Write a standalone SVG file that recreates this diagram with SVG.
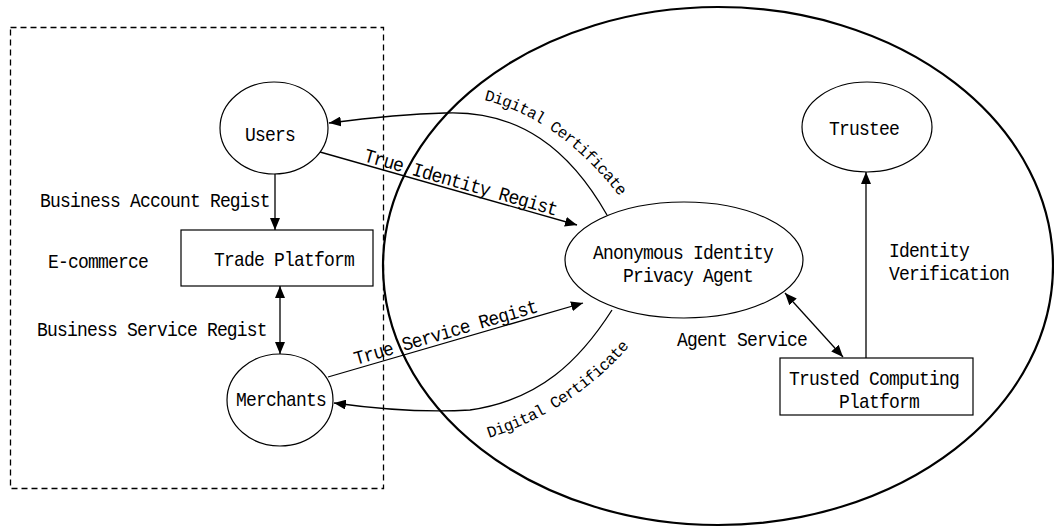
<svg xmlns="http://www.w3.org/2000/svg" width="1054" height="527" viewBox="0 0 1054 527">
  <style>
    .node { fill: #fff; stroke: #000; stroke-width: 1.2; }
    .edge { fill: none; stroke: #000; stroke-width: 1.3; }
    .lbl { font-family: "Liberation Mono", "DejaVu Sans Mono", monospace; font-size: 18px; letter-spacing: -0.8px; fill: #000; }
    .sm { font-size: 16px; letter-spacing: -0.7px; }
    .mid { text-anchor: middle; }
  </style>
  <defs>
    <marker id="arrow" viewBox="0 0 12 10" refX="12" refY="5" markerWidth="12" markerHeight="10" markerUnits="userSpaceOnUse" orient="auto-start-reverse">
      <path d="M0,0 L12,5 L0,10 z" fill="#000"/>
    </marker>
    <path id="certTop" d="M 484 100 Q 560 118 624 202"/>
    <path id="certBottom" d="M 489 438 Q 575 410 632 343"/>
  </defs>

  <rect width="1054" height="527" fill="#fff"/>

  <!-- e-commerce boundary -->
  <g id="ecommerce-boundary">
    <rect x="10.5" y="27.5" width="373" height="461" fill="none" stroke="#000" stroke-width="1.3" stroke-dasharray="6,4"/>
    <text class="lbl" transform="translate(48,268) scale(1,1.08)">E-commerce</text>
  </g>

  <!-- agent domain -->
  <g id="agent-domain">
    <ellipse cx="718" cy="266" rx="335" ry="259" fill="none" stroke="#000" stroke-width="2.2"/>
  </g>

  <!-- connectors -->
  <g id="connectors">
    <line class="edge" x1="275" y1="174" x2="275" y2="230" marker-end="url(#arrow)"/>
    <line class="edge" x1="280" y1="286" x2="280" y2="354" marker-start="url(#arrow)" marker-end="url(#arrow)"/>
    <line class="edge" x1="320" y1="152" x2="577" y2="225" marker-end="url(#arrow)"/>
    <line class="edge" x1="328" y1="377" x2="583" y2="303" marker-end="url(#arrow)"/>
    <path class="edge" d="M 607 215 C 570 150, 520 110, 445 113 C 400 114, 360 119, 329 123" marker-end="url(#arrow)"/>
    <path class="edge" d="M 612 310 C 580 360, 540 400, 470 410 C 420 413, 370 408, 334 403" marker-end="url(#arrow)"/>
    <line class="edge" x1="785" y1="293" x2="843" y2="357" marker-start="url(#arrow)" marker-end="url(#arrow)"/>
    <line class="edge" x1="866" y1="358" x2="866" y2="172" marker-end="url(#arrow)"/>

    <text class="lbl" transform="translate(40,207) scale(1,1.08)">Business Account Regist</text>
    <text class="lbl" transform="translate(37,336) scale(1,1.08)">Business Service Regist</text>
    <text class="lbl" transform="translate(363,161) rotate(15.9) scale(1,1.08)">True Identity Regist</text>
    <text class="lbl" transform="translate(356,365) rotate(-16.2) scale(1,1.08)">True Service Regist</text>
    <text class="lbl sm"><textPath href="#certTop">Digital Certificate</textPath></text>
    <text class="lbl sm"><textPath href="#certBottom">Digital Certificate</textPath></text>
    <text class="lbl" transform="translate(677,346) scale(1,1.08)">Agent Service</text>
    <text class="lbl" transform="translate(889,257) scale(1,1.08)">Identity</text>
    <text class="lbl" transform="translate(889,280) scale(1,1.08)">Verification</text>
  </g>

  <g id="users">
    <ellipse class="node" cx="274" cy="128" rx="54" ry="46"/>
    <text class="lbl mid" transform="translate(270,141) scale(1,1.08)">Users</text>
  </g>

  <g id="trade-platform">
    <rect class="node" x="181" y="230" width="192" height="56"/>
    <text class="lbl" transform="translate(214,266) scale(1,1.08)">Trade Platform</text>
  </g>

  <g id="merchants">
    <ellipse class="node" cx="280" cy="400" rx="53" ry="46"/>
    <text class="lbl mid" transform="translate(281,406) scale(1,1.08)">Merchants</text>
  </g>

  <g id="privacy-agent">
    <ellipse class="node" cx="684" cy="260" rx="119" ry="58"/>
    <text class="lbl mid" transform="translate(683,259) scale(1,1.08)">Anonymous Identity</text>
    <text class="lbl mid" transform="translate(688,282) scale(1,1.08)">Privacy Agent</text>
  </g>

  <g id="trustee">
    <ellipse class="node" cx="867" cy="127" rx="65" ry="45"/>
    <text class="lbl mid" transform="translate(864,135) scale(1,1.08)">Trustee</text>
  </g>

  <g id="trusted-computing-platform">
    <rect class="node" x="780" y="358" width="193" height="57"/>
    <text class="lbl mid" transform="translate(874,385) scale(1,1.08)">Trusted Computing</text>
    <text class="lbl mid" transform="translate(879,408) scale(1,1.08)">Platform</text>
  </g>
</svg>
